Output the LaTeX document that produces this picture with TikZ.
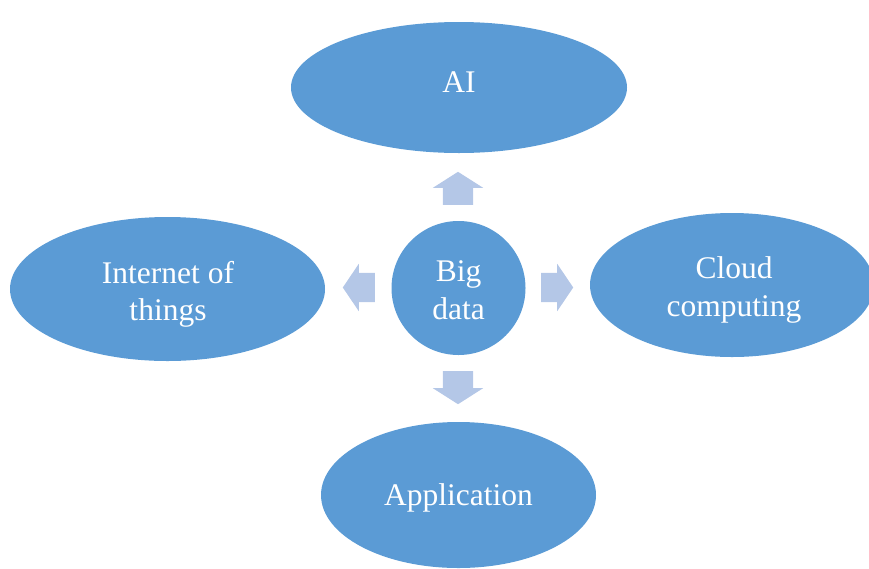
\documentclass[tikz,border=0pt]{standalone}
\usepackage{fontspec}
\setmainfont{Liberation Serif}
\usetikzlibrary{shapes.geometric,shapes.arrows}
\definecolor{bubble}{HTML}{5B9BD5}
\definecolor{arrowfill}{HTML}{B4C7E7}
\begin{document}
\begin{tikzpicture}[x=1pt,y=-1pt,
  bubble/.style={ellipse,fill=bubble,draw=none,inner sep=0pt},
  lbl/.style={text=white,inner sep=0pt,anchor=base,font=\fontsize{31.5}{38}\selectfont},
  blockarrow/.style={single arrow,fill=arrowfill,draw=none,inner sep=0pt,anchor=tail,
    inner ysep=15pt,single arrow head extend=10pt,single arrow tip angle=115,
    minimum height=33pt},
  blockarrowh/.style={single arrow,fill=arrowfill,draw=none,inner sep=0pt,anchor=tail,
    inner ysep=14.5pt,single arrow head extend=9pt,single arrow tip angle=112,
    minimum height=32pt}]
\useasboundingbox (0,0) rectangle (869,568);
\clip (0,0) rectangle (869,568);
\node[bubble,minimum width=336pt,minimum height=131pt] (ai) at (459,87.5) {};
\node[bubble,minimum width=315pt,minimum height=144pt] (iot) at (167.5,289) {};
\node[bubble,minimum width=284pt,minimum height=144pt] (cloud) at (732,285) {};
\node[bubble,minimum width=275pt,minimum height=146pt] (app) at (458.5,495) {};
\node[bubble,circle,minimum size=134pt] (big) at (458.5,288) {};
\node[lbl] (tai) at (459,92.3) {AI};
\node[lbl] (tiot1) at (168,283) {Internet of};
\node[lbl] (tiot2) at (168,320) {things};
\node[lbl] (tcl1) at (734,278) {Cloud};
\node[lbl] (tcl2) at (734,316) {computing};
\node[lbl] (tapp) at (458.5,505) {Application};
\node[lbl] (tbig1) at (458.5,281.5) {Big};
\node[lbl] (tbig2) at (458.5,319) {data};
\node[blockarrow,rotate=90] (a1) at (458,205) {};
\node[blockarrow,rotate=-90] (a4) at (458,371) {};
\node[blockarrowh,rotate=180] (a2) at (375,287.5) {};
\node[blockarrowh] (a3) at (541,287.5) {};
\end{tikzpicture}
\end{document}
